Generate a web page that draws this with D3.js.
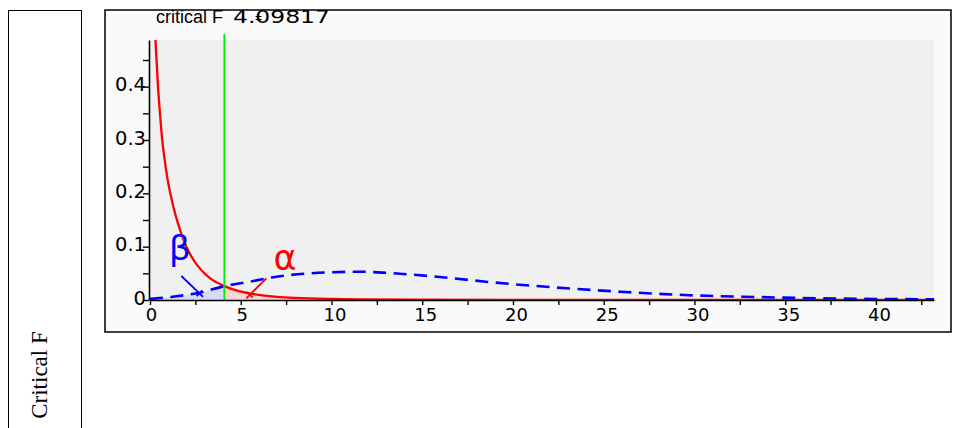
<!DOCTYPE html>
<html>
<head>
<meta charset="utf-8">
<script src="https://cdn.jsdelivr.net/npm/d3@7"></script>
<style>
  body { margin: 0; background: #fff; }
  svg { display: block; }
</style>
</head>
<body>
<script>
// values
const critF = 4.09817;

// central F curve (red)
const redX = [0.30, 0.44, 0.55, 0.66, 0.80, 0.95, 1.15, 1.4, 1.7, 2.0, 2.4, 2.8, 3.3, 4.09817, 4.9, 6.0, 7.0, 8.0, 10, 12, 15, 20, 30, 43.2];
const redY = [0.488, 0.40, 0.35, 0.305, 0.265, 0.23, 0.195, 0.16, 0.127, 0.10, 0.075, 0.057, 0.041, 0.026, 0.0165, 0.0095, 0.006, 0.004, 0.002, 0.0012, 0.0006, 0.0002, 0.00005, 0];

// noncentral F curve (blue dashed)
const blueX = [0, 1.27, 2.74, 4.09817, 5.49, 6.96, 8.8, 10, 11.55, 13, 14.3, 16.7, 18.5, 22.2, 25.9, 29.7, 33.4, 36.9, 40.2, 43.2];
const blueY = [0.002, 0.0062, 0.0137, 0.026, 0.0343, 0.0437, 0.050, 0.052, 0.053, 0.051, 0.048, 0.0407, 0.0343, 0.0238, 0.0156, 0.009, 0.0056, 0.0032, 0.0019, 0.0013];

// ticks
const xTicks = [0, 2.5, 5, 7.5, 10, 12.5, 15, 17.5, 20, 22.5, 25, 27.5, 30, 32.5, 35, 37.5, 40, 42.5];
const xTickLabels = [0, 5, 10, 15, 20, 25, 30, 35, 40];
const yTicks = [0, 0.05, 0.1, 0.15, 0.2, 0.25, 0.3, 0.35, 0.4, 0.45];
const yTickLabels = [0, 0.1, 0.2, 0.3, 0.4];

const W = 955, H = 428;
const svg = d3.select('body').append('svg').attr('width', W).attr('height', H);

// left box with rotated caption
svg.append('rect').attr('x', 8.5).attr('y', 10.5).attr('width', 73).attr('height', 430)
  .attr('fill', '#fff').attr('stroke', '#000').attr('stroke-width', 1);
svg.append('text')
  .attr('transform', 'translate(46.5,375) rotate(-90)')
  .attr('text-anchor', 'middle')
  .style('font-family', '"Liberation Serif", "Times New Roman", serif')
  .style('font-size', '23px')
  .text('Critical F');

// main frame
svg.append('rect').attr('x', 105).attr('y', 10).attr('width', 846).attr('height', 322)
  .attr('fill', '#fafafa').attr('stroke', '#000').attr('stroke-width', 1.5);

const x = d3.scaleLinear([0, 43.2], [150, 934]);
const y = d3.scaleLinear([0, 0.4875], [300, 40]);

// plot background
svg.append('rect').attr('x', x(0)).attr('y', y(0.4875))
  .attr('width', x(43.2) - x(0)).attr('height', y(0) - y(0.4875))
  .attr('fill', '#f0f0f0');

svg.append('clipPath').attr('id', 'plotclip').append('rect')
  .attr('x', x(0)).attr('y', y(0.4875))
  .attr('width', x(43.2) - x(0)).attr('height', y(0) - y(0.4875));

const red = redX.map((d, i) => ({ x: d, y: redY[i] }));
const blue = blueX.map((d, i) => ({ x: d, y: blueY[i] }));

const plot = svg.append('g').attr('clip-path', 'url(#plotclip)');

const area = d3.area().x(d => x(d.x)).y0(y(0)).y1(d => y(d.y)).curve(d3.curveMonotoneX);
const line = d3.line().x(d => x(d.x)).y(d => y(d.y)).curve(d3.curveMonotoneX);

// beta area (under blue, left of critical F)
plot.append('path').datum(blue.filter(d => d.x <= critF))
  .attr('d', area).attr('fill', '#d6d9f7');
// alpha area (under red, right of critical F)
plot.append('path').datum(red.filter(d => d.x >= critF))
  .attr('d', area).attr('fill', '#f8d6d8');

plot.append('path').datum(red).attr('d', line)
  .attr('fill', 'none').attr('stroke', '#ff0000').attr('stroke-width', 2.3);

// critical F line
svg.append('line').attr('x1', x(critF)).attr('x2', x(critF))
  .attr('y1', 34).attr('y2', y(0))
  .attr('stroke', '#00ee00').attr('stroke-width', 1.8);

plot.append('path').datum(blue).attr('d', line)
  .attr('fill', 'none').attr('stroke', '#0000ff').attr('stroke-width', 2.6)
  .attr('stroke-dasharray', '13,7.5');

// axes
const fontAx = '"DejaVu Sans", sans-serif';
const xAxis = d3.axisBottom(x).tickValues(xTicks).tickSizeInner(5).tickSizeOuter(0)
  .tickFormat(d => xTickLabels.includes(d) ? d : '');
const xg = svg.append('g').attr('transform', `translate(0,${y(0)})`).call(xAxis);
xg.select('.domain').attr('stroke-width', 1.6);
xg.selectAll('.tick line').attr('stroke-width', 1.4);
xg.selectAll('.tick text').attr('dy', 0).attr('y', 21).attr('dx', d => d >= 10 ? 3 : 1)
  .style('font-family', fontAx).style('font-size', '18px').attr('fill', '#000');

const yAxis = d3.axisLeft(y).tickValues(yTicks).tickSizeInner(6).tickSizeOuter(0)
  .tickFormat(d => yTickLabels.includes(d) ? d : '');
const yg = svg.append('g').attr('transform', `translate(${x(0) - 1},0)`).call(yAxis);
yg.select('.domain').attr('stroke-width', 1.6);
yg.selectAll('.tick text').attr('x', -3).attr('dy', 4)
  .style('font-family', fontAx).style('font-size', '19.5px').attr('fill', '#000');
yg.selectAll('.tick line').attr('stroke-width', 1.4);

// title
svg.append('text').attr('x', 156).attr('y', 23)
  .style('font-family', '"Liberation Sans", Arial, sans-serif').style('font-size', '18px')
  .text('critical F');
svg.append('text').attr('transform', 'translate(233,23) scale(1.34,1)')
  .style('font-family', '"DejaVu Sans", sans-serif').style('font-size', '17.5px')
  .text('4.09817');
svg.append('text').attr('x', 255).attr('y', 21.5)
  .style('font-family', '"Liberation Sans", Arial, sans-serif').style('font-size', '12px')
  .text('=');

// beta / alpha labels and pointers
svg.append('text').attr('x', x(1.05)).attr('y', y(0.075))
  .attr('fill', '#0000ff').style('font-family', '"DejaVu Sans", sans-serif').style('font-size', '34px')
  .text('β');
svg.append('text').attr('x', x(6.8)).attr('y', y(0.056))
  .attr('fill', '#ff0000').style('font-family', '"DejaVu Sans", sans-serif').style('font-size', '35px')
  .text('α');

const pointers = [
  { from: [1.73, 0.045], to: [2.92, 0.006], color: '#0000ff' },
  { from: [6.41, 0.0407], to: [5.31, 0.0032], color: '#ff0000' }
];
pointers.forEach(p => {
  const x1 = x(p.from[0]), y1 = y(p.from[1]), x2 = x(p.to[0]), y2 = y(p.to[1]);
  svg.append('line').attr('x1', x1).attr('y1', y1).attr('x2', x2).attr('y2', y2)
    .attr('stroke', p.color).attr('stroke-width', 1.8);
  const len = Math.hypot(x2 - x1, y2 - y1);
  const ux = (x2 - x1) / len, uy = (y2 - y1) / len;
  const cx = x2 - ux * 5, cy = y2 - uy * 5;
  svg.append('line')
    .attr('x1', cx - uy * 4).attr('y1', cy + ux * 4)
    .attr('x2', cx + uy * 4).attr('y2', cy - ux * 4)
    .attr('stroke', p.color).attr('stroke-width', 1.8);
});
</script>
</body>
</html>
